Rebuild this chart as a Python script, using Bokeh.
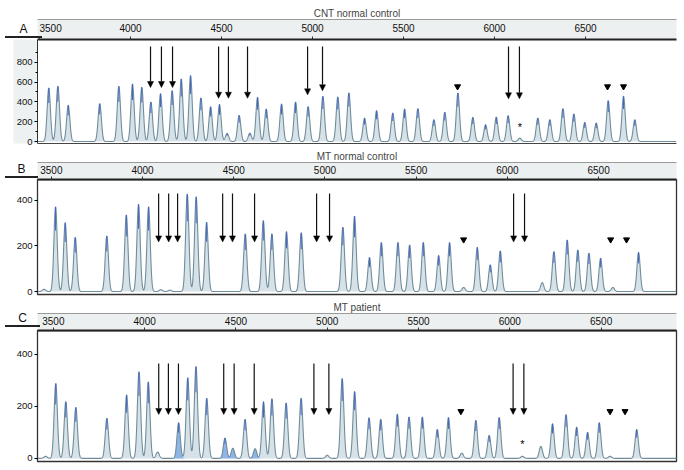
import numpy as np
from bokeh.plotting import figure
from bokeh.layouts import column
from bokeh.models import (FixedTicker, LinearAxis, Range1d, Arrow, Div,
                          NormalHead, ColumnDataSource)
from bokeh.core.properties import value
from bokeh.embed import file_html
from bokeh.resources import INLINE

FONT = "Liberation Sans"
x_ticks = [3500, 4000, 4500, 5000, 5500, 6000, 6500]

# ---------------- Panel A: CNT normal control ----------------
a_title = "CNT normal control"
a_pos = [3551, 3601, 3658, 3831, 3936, 4011, 4062, 4112, 4165, 4229, 4279, 4330,
         4387, 4440, 4489, 4531, 4597, 4656, 4698, 4746, 4830, 4907, 4976, 5057,
         5139, 5200, 5286, 5352, 5441, 5506, 5579, 5667, 5727, 5799, 5881, 5951,
         6010, 6075, 6139, 6238, 6304, 6376, 6436, 6496, 6559, 6625, 6709, 6771]
a_height = [540, 557, 365, 381, 557, 580, 547, 398, 483, 513, 631, 665,
            439, 351, 375, 81, 263, 84, 446, 327, 378, 398, 351, 456,
            449, 490, 236, 311, 287, 327, 331, 219, 294, 490, 243, 169,
            246, 260, 34, 236, 219, 331, 277, 192, 186, 412, 456, 219]
a_arrow_x = [4110, 4170, 4231, 4484, 4538, 4643, 4973, 5055, 6077, 6137]
a_arrow_tip = [545, 545, 545, 437, 437, 437, 471, 512, 431, 431]
a_arrow_top = 960
a_tri_x = [5797, 6621, 6709]
a_tri_y = [555, 555, 555]
a_star_x = [6139]
a_star_y = [150]
a_yticks = [0, 200, 400, 600, 800]
a_yminor = [100, 300, 500, 700, 900]

# ---------------- Panel B: MT normal control ----------------
b_title = "MT normal control"
b_pos = [3460, 3523, 3576, 3631, 3804, 3911, 3978, 4033, 4100, 4150, 4245, 4294,
         4351, 4563, 4662, 4709, 4789, 4870, 5098, 5162, 5244, 5309, 5400, 5464,
         5539, 5623, 5683, 5760, 5835, 5906, 5961, 6191, 6255, 6328, 6386, 6447,
         6511, 6578, 6719]
b_height = [10, 372, 302, 238, 244, 336, 383, 372, 8, 6, 428, 416,
            304, 253, 311, 253, 263, 258, 282, 331, 149, 215, 215, 204,
            215, 158, 215, 18, 194, 117, 178, 39, 175, 226, 182, 168,
            146, 18, 172]
b_arrow_x = [4088, 4143, 4192, 4439, 4493, 4614, 4954, 5025, 6034, 6094]
b_arrow_tip = [218] * 10
b_arrow_top = 430
b_tri_x = [5760, 6566, 6653]
b_tri_y = [228, 228, 228]
b_yticks = [0, 200, 400]

# ---------------- Panel C: MT patient ----------------
c_title = "MT patient"
c_pos = [3457, 3513, 3568, 3623, 3793, 3901, 3969, 4020, 4071, 4186, 4236, 4281,
         4340, 4440, 4483, 4550, 4605, 4651, 4697, 4775, 4857, 5000, 5082, 5150,
         5229, 5293, 5384, 5448, 5521, 5603, 5664, 5737, 5814, 5887, 5942, 6069,
         6170, 6234, 6308, 6366, 6426, 6490, 6549, 6695]
c_height = [8, 288, 218, 196, 154, 244, 333, 294, 24, 137, 310, 353,
            231, 78, 39, 150, 37, 218, 229, 213, 231, 12, 307, 257,
            156, 150, 170, 159, 159, 111, 157, 20, 146, 88, 157, 8,
            46, 133, 168, 120, 100, 137, 8, 111]
c_reduced = [4186, 4440, 4483, 4605]
c_arrow_x = [4077, 4130, 4185, 4433, 4490, 4600, 4927, 5009, 6018, 6077]
c_arrow_tip = [169] * 10
c_arrow_top = 365
c_tri_x = [5732, 6549, 6631]
c_tri_y = [181, 181, 181]
c_star_x = [6069]
c_star_y = [54]
c_yticks = [0, 200, 400]

LINE = "#6f8d9b"
FILL = "#d6e2e8"
TIP = "#4263c8"
BLUE_FILL = "#8fb5e6"
FW = 639


def trace(xs, pos, h, sig=9.0):
    ys = np.zeros_like(xs)
    for p0, h0 in zip(pos, h):
        ys += h0 * np.exp(-0.5 * ((xs - p0) / sig) ** 2)
    return ys


def panel(title, pos, h, xr, yr, yticks, yminor, frame_h, left, right,
          top_b, bottom, ax_x, ax_top, ax_tip, tri_x, tri_y, star_x, star_y,
          blue=None, is_a=False):
    p = figure(frame_width=FW, frame_height=frame_h,
               x_range=Range1d(*xr), y_range=Range1d(*yr),
               x_axis_location="above", output_backend="svg",
               toolbar_location=None, min_border_left=left,
               min_border_right=right, min_border_top=top_b,
               min_border_bottom=bottom)
    p.grid.visible = False
    p.title.text = title
    p.title.align = "center"
    p.title.offset = -11
    p.title.text_font = FONT
    p.title.text_font_style = "normal"
    p.title.text_font_size = "10px"
    p.title.standoff = 1

    xa = p.xaxis[0]
    xa.ticker = FixedTicker(ticks=x_ticks)
    xa.major_label_text_font = FONT
    xa.major_label_text_font_size = "10px"
    xa.major_label_text_color = "#111"
    xa.axis_line_width = 2.2
    xa.axis_line_color = "#222"
    xa.major_tick_out = 3
    xa.major_tick_in = 0
    xa.major_tick_line_color = "#333"
    xa.minor_tick_line_color = None
    xa.major_label_standoff = 3
    if is_a:
        # first label sits inside the band, pushed right of its tick
        xa.major_label_overrides = {3500: "\u00a0" * 8 + "3500"}
    try:
        xa.background_fill_color = "#edf0f0"
    except Exception:
        pass

    top = LinearAxis(ticker=FixedTicker(ticks=[]), major_label_text_font_size="0px",
                     axis_line_color="#9a9a9a", axis_line_width=1,
                     major_tick_out=0, major_tick_in=0, minor_tick_out=0,
                     minor_tick_in=0)
    p.add_layout(top, "above")

    ya = p.yaxis[0]
    ya.ticker = FixedTicker(ticks=yticks, minor_ticks=yminor)
    ya.major_label_text_font = FONT
    ya.major_label_text_font_size = "9.5px"
    ya.major_label_text_color = "#111"
    ya.axis_line_color = "#333"
    ya.major_tick_out = 3
    ya.major_tick_in = 0
    ya.minor_tick_out = 2
    ya.minor_tick_in = 0
    ya.major_label_standoff = 2
    if is_a:
        try:
            ya.background_fill_color = "#eef1f1"
        except Exception:
            pass
        p.outline_line_color = None
        bot = LinearAxis(ticker=FixedTicker(ticks=[]), major_label_text_font_size="0px",
                         axis_line_color="#444", axis_line_width=1.2,
                         major_tick_out=0, major_tick_in=0, minor_tick_out=0,
                         minor_tick_in=0)
        p.add_layout(bot, "below")
    else:
        p.outline_line_color = "#333"
        p.outline_line_width = 1.3

    xs = np.linspace(xr[0], xr[1], 4000)
    ys = trace(xs, pos, h)
    p.varea(x=xs, y1=np.zeros_like(xs), y2=ys, fill_color=FILL, fill_alpha=1)
    if blue:
        bp = [q for q in pos if q in blue]
        bh = [hh for q, hh in zip(pos, h) if q in blue]
        yb = trace(xs, bp, bh)
        p.varea(x=xs, y1=np.zeros_like(xs), y2=yb, fill_color=BLUE_FILL, fill_alpha=1)
    p.line(xs, ys, line_color=LINE, line_width=1.1)

    tp = [q for q, hh in zip(pos, h) if hh > 60]
    th = [hh for hh in h if hh > 60]
    p.segment(x0=tp, y0=[0.72 * v for v in th], x1=tp, y1=th,
              line_color=TIP, line_width=1.0)

    src = ColumnDataSource(dict(x=ax_x, y0=[ax_top] * len(ax_x), y1=ax_tip))
    p.add_layout(Arrow(end=NormalHead(size=6, fill_color="black", line_color="black",
                                      line_width=0.5),
                       x_start="x", y_start="y0", x_end="x", y_end="y1",
                       source=src, line_color="#111", line_width=1.2))
    p.scatter(tri_x, tri_y, marker="inverted_triangle", size=6,
              fill_color="black", line_color="black")
    if star_x:
        p.text(star_x, star_y, text=["*"] * len(star_x), text_font=value(FONT),
               text_font_size="11px", text_align="center", text_baseline="middle",
               text_color="black")
    return p


def letter(txt, top, w):
    return Div(text=txt, width=w, height=17,
               styles={"position": "absolute", "left": "0px", "top": f"{top}px",
                       "width": f"{w}px",
                       "font-family": FONT, "font-size": "12px", "color": "#111",
                       "text-align": "center", "line-height": "16px",
                       "border-bottom": "2px solid #222",
                       "box-sizing": "border-box", "z-index": "5"})


pa = panel(a_title, a_pos, a_height, (3489, 7000), (-20, 1030), a_yticks,
           a_yminor, 104, 37, 8, 39, 3, a_arrow_x, a_arrow_top, a_arrow_tip,
           a_tri_x, a_tri_y, a_star_x, a_star_y, is_a=True)
pb = panel(b_title, b_pos, b_height, (3424, 6927), (-13, 492), b_yticks,
           [], 115, 33, 12, 33, 3, b_arrow_x, b_arrow_top, b_arrow_tip,
           b_tri_x, b_tri_y, None, None)
pc = panel(c_title, c_pos, c_height, (3413, 6913), (-12, 492), c_yticks,
           [], 131, 35, 10, 33, 4, c_arrow_x, c_arrow_top, c_arrow_tip,
           c_tri_x, c_tri_y, c_star_x, c_star_y, blue=c_reduced)

layout = column(pa, pb, pc, letter("A", 16, 37), letter("B", 156, 33),
                letter("C", 305, 35), spacing=0)
open("out.html", "w").write(file_html(layout, INLINE))
